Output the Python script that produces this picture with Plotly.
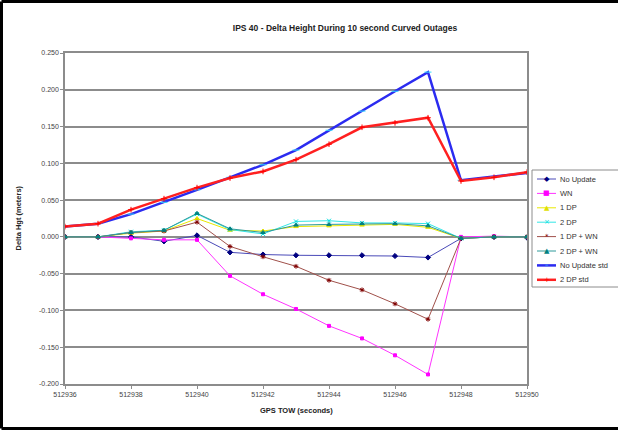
import plotly.graph_objects as go

# ---- data ----
gps_tow = [512936, 512937, 512938, 512939, 512940, 512941, 512942, 512943,
           512944, 512945, 512946, 512947, 512948, 512949, 512950]

no_update = [0.000, 0.000, 0.000, -0.006, 0.002, -0.021, -0.024, -0.025,
             -0.025, -0.025, -0.026, -0.028, -0.002, 0.000, -0.001]
wn = [0.000, 0.000, -0.002, -0.004, -0.004, -0.053, -0.078, -0.098,
      -0.121, -0.138, -0.161, -0.187, 0.000, 0.001, 0.000]
one_dp = [0.000, 0.000, 0.005, 0.008, 0.025, 0.009, 0.008, 0.014,
          0.015, 0.016, 0.017, 0.013, -0.002, 0.000, 0.000]
two_dp = [0.000, 0.000, 0.007, 0.009, 0.031, 0.010, 0.004, 0.021,
          0.022, 0.019, 0.019, 0.018, -0.002, 0.000, 0.000]
one_dp_wn = [0.000, 0.000, 0.006, 0.008, 0.020, -0.013, -0.027, -0.040,
             -0.059, -0.072, -0.091, -0.112, -0.002, 0.000, 0.000]
two_dp_wn = [0.000, 0.000, 0.006, 0.009, 0.032, 0.011, 0.006, 0.016,
             0.017, 0.018, 0.018, 0.015, -0.002, 0.000, 0.000]
no_update_std = [0.014, 0.018, 0.031, 0.047, 0.064, 0.081, 0.098, 0.118,
                 0.145, 0.171, 0.198, 0.224, 0.077, 0.082, 0.087]
two_dp_std = [0.014, 0.018, 0.037, 0.052, 0.067, 0.080, 0.089, 0.105,
              0.126, 0.149, 0.155, 0.162, 0.076, 0.081, 0.088]

x_ticks = [512936, 512938, 512940, 512942, 512944, 512946, 512948, 512950]
y_ticks = [-0.2, -0.15, -0.1, -0.05, 0.0, 0.05, 0.1, 0.15, 0.2, 0.25]

# name, values, line colour, marker colour, plot symbol, legend glyph, line width, marker size
series = [
    ("No Update", no_update, "#4a4ab8", "#000080", "diamond", "◆", 1, 4),
    ("WN", wn, "#ff33ff", "#ff00ff", "square", "■", 1, 3),
    ("1 DP", one_dp, "#e8e800", "#e0e000", "triangle-up", "▲", 1, 4),
    ("2 DP", two_dp, "#33e6e6", "#00e0e0", "x-thin-open", "×", 1, 4),
    ("1 DP + WN", one_dp_wn, "#a0504a", "#800000", "asterisk-open", "*", 1, 4),
    ("2 DP + WN", two_dp_wn, "#2e9a9a", "#008080", "triangle-up", "▲", 1, 4),
    ("No Update std", no_update_std, "#2b2bf0", "#33ddff", "line-ew-open", "–", 2.5, 5),
    ("2 DP std", two_dp_std, "#ff2020", "#ff0000", "cross-thin-open", "+", 2.5, 4),
]

fig = go.Figure()
for name, vals, lc, mc, sym, glyph, lw, ms in series:
    fig.add_trace(go.Scatter(
        x=gps_tow, y=vals, name=name, mode="lines+markers",
        line=dict(color=lc, width=lw),
        marker=dict(color=mc, symbol=sym, size=ms,
                    line=dict(color=mc, width=1)),
        showlegend=False,
    ))

font_family = "Liberation Sans, Arial, sans-serif"
W, H = 618, 431
L, R, T, B = 65, 91, 53, 47
PW, PH = W - L - R, H - T - B


def px(xp):
    return (xp - L) / PW


def py(yp):
    return (H - B - yp) / PH


fig.update_layout(
    width=W, height=H,
    margin=dict(l=L, r=R, t=T, b=B, autoexpand=False),
    paper_bgcolor="white", plot_bgcolor="white",
    font=dict(family=font_family, size=7, color="#333333"),
    title=dict(text="<b>IPS 40 - Delta Height During 10 second Curved Outages</b>",
               x=345 / W, xref="container", xanchor="center",
               y=1 - 28 / H, yref="container", yanchor="middle",
               font=dict(size=8.5, color="#222222", family=font_family)),
    xaxis=dict(range=[512936, 512950], tickvals=x_ticks,
               ticktext=[str(v) for v in x_ticks],
               showgrid=False, zeroline=False,
               showline=True, linecolor="#8c8c8c", linewidth=1.5, mirror=True,
               ticks="outside", ticklen=3, tickcolor="#8c8c8c",
               tickfont=dict(size=7, color="#444444")),
    yaxis=dict(range=[-0.2, 0.25], tickvals=y_ticks,
               ticktext=[f"{v:.3f}" for v in y_ticks],
               showgrid=True, gridcolor="#8c8c8c", gridwidth=1.5,
               zeroline=False,
               showline=True, linecolor="#8c8c8c", linewidth=1.5, mirror=True,
               ticks="outside", ticklen=3, tickcolor="#8c8c8c",
               tickfont=dict(size=7, color="#444444")),
    showlegend=False,
)

fig.add_annotation(text="<b>GPS TOW (seconds)</b>", xref="paper", yref="paper",
                   x=0.5, y=py(410), yanchor="middle",
                   showarrow=False, font=dict(size=7.5, color="#222222"))
fig.add_annotation(text="<b>Delta Hgt (meters)</b>", xref="paper", yref="paper",
                   x=px(18), y=0.5, xanchor="center",
                   textangle=-90, showarrow=False,
                   font=dict(size=7.5, color="#222222"))

# ---- legend box (drawn to match the compact original legend) ----
fig.add_shape(type="rect", xref="paper", yref="paper", layer="above",
              x0=px(532), x1=px(650), y0=py(287), y1=py(170),
              line=dict(color="#8c8c8c", width=1), fillcolor="white")
for i, (name, vals, lc, mc, sym, glyph, lw, ms) in enumerate(series):
    yy = 179 + i * 14.4
    fig.add_shape(type="line", xref="paper", yref="paper", layer="above",
                  x0=px(537), x1=px(556), y0=py(yy), y1=py(yy),
                  line=dict(color=lc, width=lw))
    fig.add_annotation(text=glyph, xref="paper", yref="paper",
                       x=px(546.5), y=py(yy), xanchor="center", yanchor="middle",
                       showarrow=False,
                       font=dict(size=7, color=mc, family="DejaVu Sans"))
    fig.add_annotation(text=name, xref="paper", yref="paper",
                       x=px(558), y=py(yy), xanchor="left", yanchor="middle",
                       showarrow=False,
                       font=dict(size=7.5, color="#333333"))

# outer chart frame (left, top, bottom edges; right edge lies off-picture)
frame = dict(color="black", width=3)
fig.add_shape(type="line", xref="paper", yref="paper", layer="above",
              x0=px(1.5), x1=px(1.5), y0=py(428.5), y1=py(1.5), line=frame)
fig.add_shape(type="line", xref="paper", yref="paper", layer="above",
              x0=px(1.5), x1=px(618), y0=py(1.5), y1=py(1.5), line=frame)
fig.add_shape(type="line", xref="paper", yref="paper", layer="above",
              x0=px(1.5), x1=px(618), y0=py(428.5), y1=py(428.5), line=frame)

fig.write_html("out.html", config={"displayModeBar": False},
               post_script="document.body.style.margin='0px';"
                           "document.body.style.overflow='hidden';")
